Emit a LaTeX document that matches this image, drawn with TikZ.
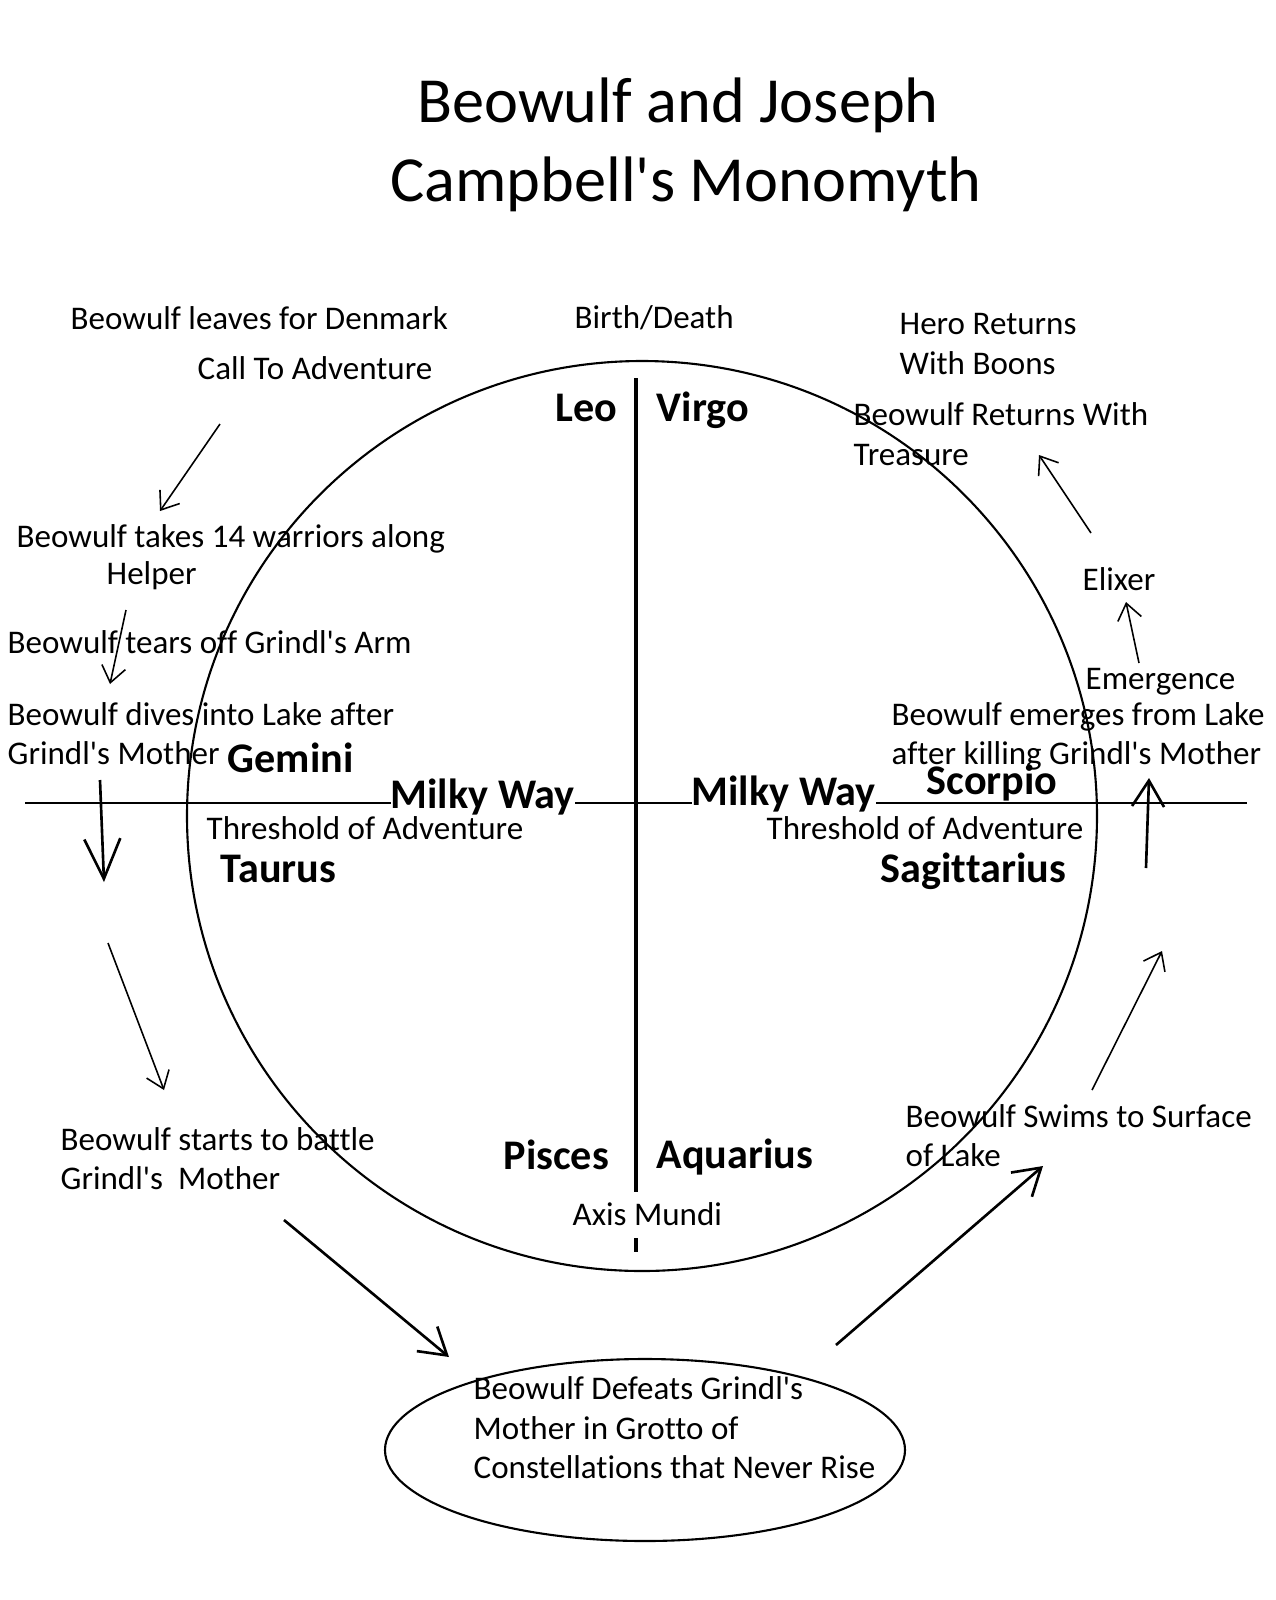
\documentclass[tikz,border=0pt]{standalone}
\usepackage{fontspec}
\setmainfont{Carlito}[Ligatures=NoCommon]
\usetikzlibrary{arrows.meta}

\begin{document}
\begin{tikzpicture}[x=0.1mm, y=-0.1mm,
    every node/.style={inner sep=0pt, anchor=base west},
    txt/.style={font=\fontsize{9.4}{11.1}\selectfont, align=left},
    sign/.style={font=\fontsize{12}{14}\selectfont\bfseries},
    arr/.style={-{Straight Barb[length=1.6mm,width=2.4mm]}, line width=0.45pt},
    bigarr/.style={-{Straight Barb[length=2.6mm,width=3.2mm]}, line width=0.75pt}]
    \useasboundingbox (0,0) rectangle (1276,1600);

    % title
    \node[font=\fontsize{18.3}{22}\selectfont, anchor=base] (title1) at (678,122) {Beowulf and Joseph};
    \node[font=\fontsize{18.3}{22}\selectfont, anchor=base] (title2) at (686,201) {Campbell\textquotesingle s Monomyth};

    % circle, axes and grotto
    \draw [line width=0.6pt] (642,816) circle (455);
    \draw [line width=0.45pt] (25,803) -- (1247,803);
    \draw [line width=0.9pt] (636,378) -- (636,1192);
    \draw [line width=0.9pt] (636,1238) -- (636,1252);
    \draw [line width=0.6pt] (645,1450) ellipse [x radius=260, y radius=91];

    % signs of the zodiac
    \node[sign] (leo) at (555,421) {Leo};
    \node[sign] (virgo) at (656,421) {Virgo};
    \node[sign] (gemini) at (227,772) {Gemini};
    \node[sign, fill=white] (milkyL) at (390,808) {Milky Way};
    \node[sign, fill=white] (milkyR) at (691,805) {Milky Way};
    \node[sign] (scorpio) at (926,794) {Scorpio};
    \node[sign] (taurus) at (220,882) {Taurus};
    \node[sign] (sagitt) at (880,882) {Sagittarius};
    \node[sign] (pisces) at (503,1169) {Pisces};
    \node[sign] (aquarius) at (656,1168) {Aquarius};

    % stages (base = last line)
    \node[txt] (leaves) at (70,329) {Beowulf leaves for Denmark};
    \node[txt] (call) at (197,379) {Call To Adventure};
    \node[txt] (birth) at (574,328) {Birth/Death};
    \node[txt] (hero) at (899,374) {Hero Returns\\With Boons};
    \node[txt] (treasure) at (853,465) {Beowulf Returns With\\Treasure};
    \node[txt] (takes) at (16,547) {Beowulf takes 14 warriors along};
    \node[txt] (helper) at (106,584) {Helper};
    \node[txt] (elixer) at (1082,590) {Elixer};
    \node[txt] (arm) at (7,653) {Beowulf tears off Grindl\textquotesingle s Arm};
    \node[txt] (emergence) at (1085,689) {Emergence};
    \node[txt] (emerges) at (891,764) {Beowulf emerges from Lake\\after killing Grindl\textquotesingle s Mother};
    \node[txt] (dives) at (7,764) {Beowulf dives into Lake after\\Grindl\textquotesingle s Mother};
    \node[txt] (threshL) at (206,839) {Threshold of Adventure};
    \node[txt] (threshR) at (766,839) {Threshold of Adventure};
    \node[txt] (battle) at (60,1189) {Beowulf starts to battle\\Grindl\textquotesingle s\ \ Mother};
    \node[txt] (swims) at (905,1166) {Beowulf Swims to Surface\\of Lake};
    \node[txt] (axis) at (572,1225) {Axis Mundi};
    \node[txt] (grotto) at (473,1478) {Beowulf Defeats Grindl\textquotesingle s\\Mother in Grotto of\\Constellations that Never Rise};

    % arrow ends
    \coordinate (a1s) at (220,424);  \coordinate (a1e) at (160,511);
    \coordinate (a2s) at (126,610);  \coordinate (a2e) at (110,684);
    \coordinate (a3s) at (100,780);  \coordinate (a3e) at (104,882);
    \coordinate (a4s) at (108,943);  \coordinate (a4e) at (164,1090);
    \coordinate (a5s) at (284,1220); \coordinate (a5e) at (449,1357);
    \coordinate (a6s) at (836,1345); \coordinate (a6e) at (1043,1166);
    \coordinate (a7s) at (1092,1090); \coordinate (a7e) at (1162,951);
    \coordinate (a8s) at (1146,868); \coordinate (a8e) at (1149,778);
    \coordinate (a9s) at (1139,663); \coordinate (a9e) at (1126,602);
    \coordinate (a10s) at (1091,533); \coordinate (a10e) at (1039,455);

    \draw [arr] (a1s) -- (a1e);
    \draw [arr] (a2s) -- (a2e);
    \draw [bigarr, -{Straight Barb[length=4mm,width=3.6mm]}] (a3s) -- (a3e);
    \draw [arr] (a4s) -- (a4e);
    \draw [bigarr] (a5s) -- (a5e);
    \draw [bigarr] (a6s) -- (a6e);
    \draw [arr] (a7s) -- (a7e);
    \draw [bigarr] (a8s) -- (a8e);
    \draw [arr] (a9s) -- (a9e);
    \draw [arr] (a10s) -- (a10e);
\end{tikzpicture}
\end{document}
